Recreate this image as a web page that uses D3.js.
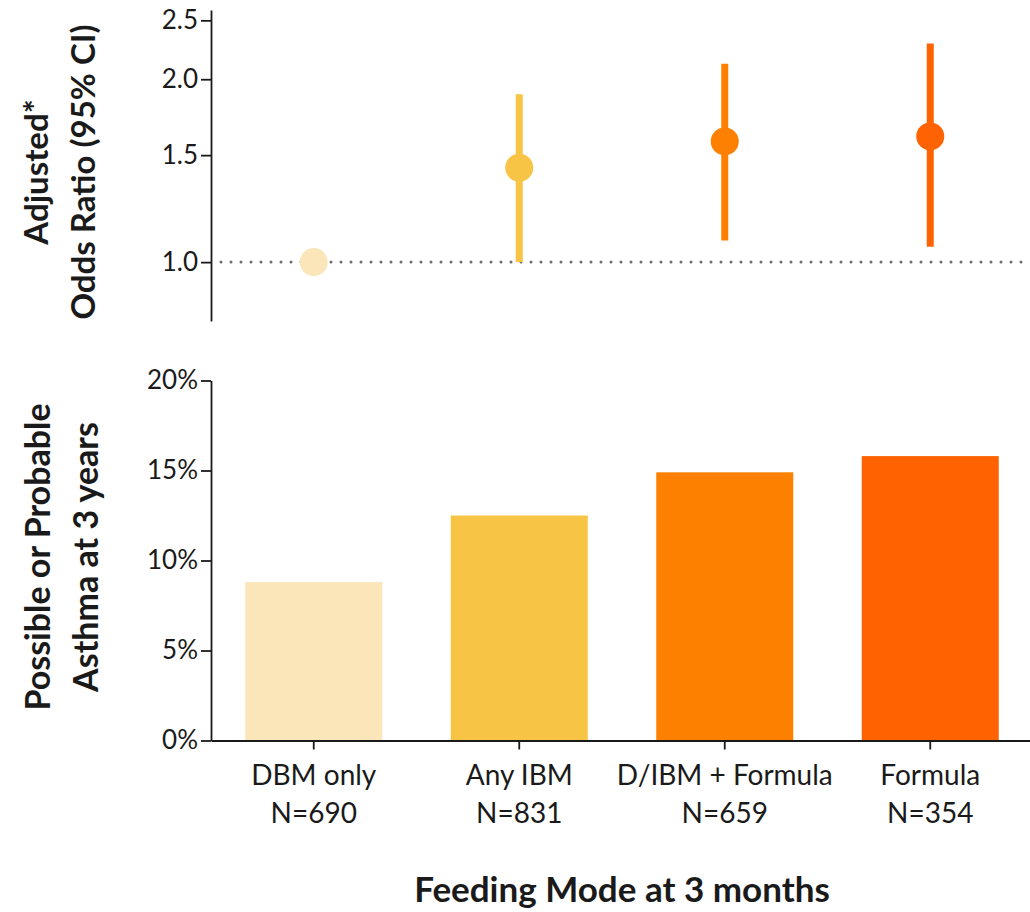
<!DOCTYPE html>
<html><head><meta charset="utf-8">
<script src="https://cdn.jsdelivr.net/npm/d3@7"></script>
<style>
body{margin:0;background:#fff}
text{font-family:Lato,"Open Sans",sans-serif;fill:#1a1a1a}
</style>
</head><body><svg id="c" width="1030" height="912"></svg>
<script>
const categories = ["DBM only","Any IBM","D/IBM + Formula","Formula"];
const sampleSizes = ["N=690","N=831","N=659","N=354"];
const oddsRatio = [1.0, 1.43, 1.58, 1.61];
const ciLower = [null, 1.0, 1.085, 1.06];
const ciUpper = [null, 1.89, 2.12, 2.29];
const asthmaPct = [8.8, 12.5, 14.9, 15.8];
const colors = ["#FBE6BA","#F8C446","#FE8000","#FF6200"];
const orTicks = [1.0, 1.5, 2.0, 2.5];
const pctTicks = [0, 5, 10, 15, 20];

const svg = d3.select("#c");
const x = d3.scaleBand().domain(categories).range([211, 1033]).paddingInner(1/3).paddingOuter(1/6);
const yTop = d3.scaleLog().domain([0.8, 2.6]).range([321, 10]);
const yBot = d3.scaleLinear().domain([0, 20]).range([740.5, 380.5]);

function styleAxis(g, size){
  g.selectAll("path,line").attr("stroke","#1a1a1a").attr("stroke-width",1.8);
  g.selectAll("text").style("font-size",(size||26)+"px").attr("fill","#1a1a1a").style("font-family","Lato, sans-serif");
}

// top axis
svg.append("g").attr("transform","translate(211,0)")
  .call(d3.axisLeft(yTop).tickValues(orTicks).tickFormat(d3.format(".1f")).tickSize(10).tickSizeOuter(0).tickPadding(3))
  .call(styleAxis);

// reference line
svg.append("line").attr("x1",216).attr("x2",1030).attr("y1",yTop(1)).attr("y2",yTop(1))
  .attr("stroke","#6e6e6e").attr("stroke-width",3).attr("stroke-linecap","round")
  .attr("stroke-dasharray","0 10").attr("stroke-dashoffset",-5);

const pts = categories.map((c,i)=>({c, or:oddsRatio[i], lo:ciLower[i], hi:ciUpper[i], col:colors[i]}));
svg.append("g").selectAll("line").data(pts.filter(d=>d.lo!==null)).join("line")
  .attr("x1",d=>x(d.c)+x.bandwidth()/2).attr("x2",d=>x(d.c)+x.bandwidth()/2)
  .attr("y1",d=>yTop(d.lo)).attr("y2",d=>yTop(d.hi))
  .attr("stroke",d=>d.col).attr("stroke-width",7);
svg.append("g").selectAll("circle").data(pts).join("circle")
  .attr("cx",d=>x(d.c)+x.bandwidth()/2).attr("cy",d=>yTop(d.or)).attr("r",14)
  .attr("fill",d=>d.col);

// bottom panel
svg.append("g").selectAll("rect").data(categories).join("rect")
  .attr("x",d=>x(d)).attr("width",x.bandwidth())
  .attr("y",(d,i)=>yBot(asthmaPct[i])).attr("height",(d,i)=>yBot(0)-yBot(asthmaPct[i]))
  .attr("fill",(d,i)=>colors[i]);

svg.append("g").attr("transform","translate(211,0)")
  .call(d3.axisLeft(yBot).tickValues(pctTicks).tickFormat(d=>d+"%").tickSize(10).tickSizeOuter(0).tickPadding(3))
  .call(styleAxis);

const xg = svg.append("g").attr("transform",`translate(0,${yBot(0)})`)
  .call(d3.axisBottom(x).tickSize(9).tickSizeOuter(0).tickFormat(""))
  .call(styleAxis);
xg.selectAll(".tick").each(function(d,i){
  const t = d3.select(this).append("text").attr("text-anchor","middle").style("font-size","28px").attr("fill","#1a1a1a");
  t.append("tspan").attr("x",0).attr("y",44.5).text(d);
  t.append("tspan").attr("x",0).attr("y",82.5).text(sampleSizes[i]);
});

// titles
function vtitle(cy, lines, bases, size){
  const g = svg.append("g");
  lines.forEach((l,k)=>{
    g.append("text").attr("transform",`translate(${bases[k]},${cy}) rotate(-90)`)
      .attr("text-anchor","middle").style("font-size",size+"px").style("font-weight","bold").text(l);
  });
}
vtitle(172,["Adjusted*","Odds Ratio (95% CI)"],[48,95],33);
vtitle(557,["Possible or Probable","Asthma at 3 years"],[50,98],34);

svg.append("text").attr("x",622).attr("y",902).attr("text-anchor","middle")
  .style("font-size","35px").style("font-weight","bold").text("Feeding Mode at 3 months");
</script>
</body></html>
